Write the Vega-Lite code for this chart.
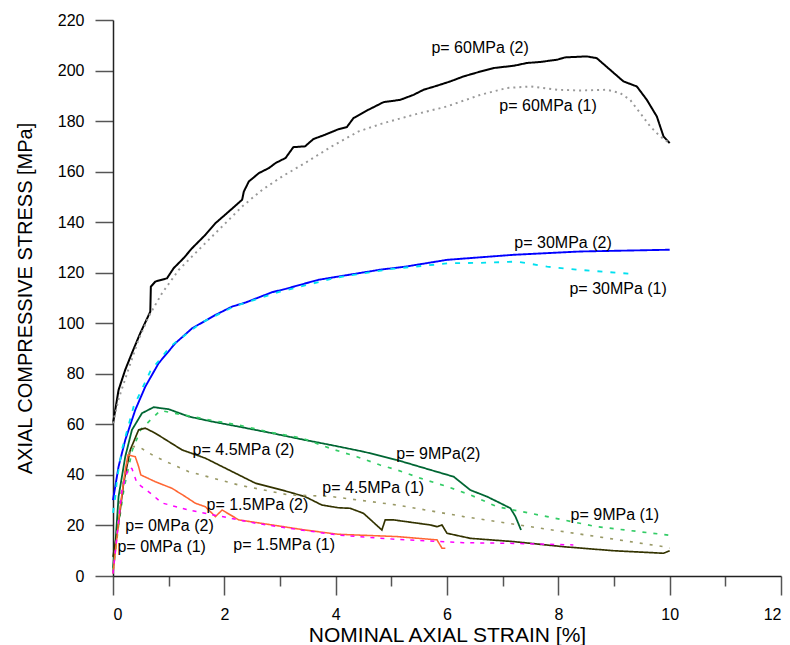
{
  "$schema": "https://vega.github.io/schema/vega-lite/v6.json",
  "autosize": "none",
  "width": 668,
  "height": 556,
  "padding": {"left": 113, "top": 20, "right": 9, "bottom": 69},
  "background": "white",
  "config": {"view": {"stroke": null}, "font": "Liberation Sans"},
  "datasets": {
    "curves": [
      {"s":"60-2","i":1,"x":0,"y":60.4},{"s":"60-2","i":2,"x":0.1,"y":73.6},{"s":"60-2","i":3,"x":0.22,"y":81.6},{"s":"60-2","i":4,"x":0.34,"y":88.2},{"s":"60-2","i":5,"x":0.49,"y":96.1},{"s":"60-2","i":6,"x":0.67,"y":104.6},{"s":"60-2","i":7,"x":0.68,"y":114.5},{"s":"60-2","i":8,"x":0.76,"y":116.5},{"s":"60-2","i":9,"x":0.97,"y":117.8},{"s":"60-2","i":10,"x":1.09,"y":121.8},{"s":"60-2","i":11,"x":1.27,"y":125.8},{"s":"60-2","i":12,"x":1.42,"y":129.7},{"s":"60-2","i":13,"x":1.66,"y":135},{"s":"60-2","i":14,"x":1.84,"y":139.6},{"s":"60-2","i":15,"x":2.08,"y":144.2},{"s":"60-2","i":16,"x":2.32,"y":148.9},{"s":"60-2","i":17,"x":2.35,"y":152.1},{"s":"60-2","i":18,"x":2.44,"y":156.1},{"s":"60-2","i":19,"x":2.62,"y":159.4},{"s":"60-2","i":20,"x":2.8,"y":161.4},{"s":"60-2","i":21,"x":2.92,"y":163.4},{"s":"60-2","i":22,"x":3.1,"y":165.4},{"s":"60-2","i":23,"x":3.24,"y":169.7},{"s":"60-2","i":24,"x":3.45,"y":170},{"s":"60-2","i":25,"x":3.6,"y":172.9},{"s":"60-2","i":26,"x":3.81,"y":174.6},{"s":"60-2","i":27,"x":4.05,"y":176.8},{"s":"60-2","i":28,"x":4.2,"y":177.6},{"s":"60-2","i":29,"x":4.32,"y":181.2},{"s":"60-2","i":30,"x":4.59,"y":184.5},{"s":"60-2","i":31,"x":4.86,"y":187.5},{"s":"60-2","i":32,"x":5.16,"y":188.4},{"s":"60-2","i":33,"x":5.4,"y":190.4},{"s":"60-2","i":34,"x":5.58,"y":192.4},{"s":"60-2","i":35,"x":5.82,"y":194},{"s":"60-2","i":36,"x":6.06,"y":195.7},{"s":"60-2","i":37,"x":6.3,"y":197.7},{"s":"60-2","i":38,"x":6.6,"y":199.6},{"s":"60-2","i":39,"x":6.84,"y":201},{"s":"60-2","i":40,"x":7.2,"y":201.9},{"s":"60-2","i":41,"x":7.44,"y":203},{"s":"60-2","i":42,"x":7.68,"y":203.4},{"s":"60-2","i":43,"x":7.98,"y":204.3},{"s":"60-2","i":44,"x":8.12,"y":205.2},{"s":"60-2","i":45,"x":8.51,"y":205.6},{"s":"60-2","i":46,"x":8.69,"y":204.9},{"s":"60-2","i":47,"x":8.93,"y":200.3},{"s":"60-2","i":48,"x":9.17,"y":195.7},{"s":"60-2","i":49,"x":9.41,"y":193.7},{"s":"60-2","i":50,"x":9.59,"y":188.4},{"s":"60-2","i":51,"x":9.77,"y":181.8},{"s":"60-2","i":52,"x":9.89,"y":173.9},{"s":"60-2","i":53,"x":10,"y":171.3},

      {"s":"60-1","i":1,"x":0,"y":60.4},{"s":"60-1","i":2,"x":0.1,"y":70},{"s":"60-1","i":3,"x":0.25,"y":80},{"s":"60-1","i":4,"x":0.45,"y":93},{"s":"60-1","i":5,"x":0.64,"y":102.6},{"s":"60-1","i":6,"x":0.88,"y":111.9},{"s":"60-1","i":7,"x":1.18,"y":121.1},{"s":"60-1","i":8,"x":1.6,"y":130.4},{"s":"60-1","i":9,"x":1.96,"y":138.3},{"s":"60-1","i":10,"x":2.32,"y":146.2},{"s":"60-1","i":11,"x":2.68,"y":152.8},{"s":"60-1","i":12,"x":3.04,"y":158.1},{"s":"60-1","i":13,"x":3.45,"y":163.4},{"s":"60-1","i":14,"x":3.93,"y":170},{"s":"60-1","i":15,"x":4.41,"y":175.9},{"s":"60-1","i":16,"x":4.83,"y":179},{"s":"60-1","i":17,"x":5.4,"y":182.5},{"s":"60-1","i":18,"x":6,"y":185.8},{"s":"60-1","i":19,"x":6.6,"y":190.4},{"s":"60-1","i":20,"x":7.08,"y":193.1},{"s":"60-1","i":21,"x":7.5,"y":193.7},{"s":"60-1","i":22,"x":7.98,"y":192.4},{"s":"60-1","i":23,"x":8.39,"y":192.1},{"s":"60-1","i":24,"x":8.87,"y":192.4},{"s":"60-1","i":25,"x":9.11,"y":191.1},{"s":"60-1","i":26,"x":9.29,"y":188.4},{"s":"60-1","i":27,"x":9.47,"y":183.2},{"s":"60-1","i":28,"x":9.65,"y":177.9},{"s":"60-1","i":29,"x":9.83,"y":173.9},{"s":"60-1","i":30,"x":10,"y":171.3},

      {"s":"30-2","i":1,"x":0,"y":30},{"s":"30-2","i":2,"x":0.1,"y":43.3},{"s":"30-2","i":3,"x":0.22,"y":53.8},{"s":"30-2","i":4,"x":0.4,"y":65.7},{"s":"30-2","i":5,"x":0.58,"y":74.9},{"s":"30-2","i":6,"x":0.82,"y":84.2},{"s":"30-2","i":7,"x":1.12,"y":92.1},{"s":"30-2","i":8,"x":1.42,"y":98},{"s":"30-2","i":9,"x":1.84,"y":103.3},{"s":"30-2","i":10,"x":2.14,"y":106.6},{"s":"30-2","i":11,"x":2.38,"y":108.2},{"s":"30-2","i":12,"x":2.86,"y":112.3},{"s":"30-2","i":13,"x":3.1,"y":113.6},{"s":"30-2","i":14,"x":3.69,"y":117.2},{"s":"30-2","i":15,"x":4.41,"y":119.8},{"s":"30-2","i":16,"x":4.8,"y":121.2},{"s":"30-2","i":17,"x":5.25,"y":122.4},{"s":"30-2","i":18,"x":6,"y":125.1},{"s":"30-2","i":19,"x":7.2,"y":127.1},{"s":"30-2","i":20,"x":8.39,"y":128.4},{"s":"30-2","i":21,"x":10,"y":129.1},

      {"s":"30-1","i":1,"x":0,"y":25},{"s":"30-1","i":2,"x":0.04,"y":31},{"s":"30-1","i":3,"x":0.07,"y":38},{"s":"30-1","i":4,"x":0.16,"y":50},{"s":"30-1","i":5,"x":0.37,"y":67},{"s":"30-1","i":6,"x":0.67,"y":81},{"s":"30-1","i":7,"x":1.03,"y":90.8},{"s":"30-1","i":8,"x":1.57,"y":100},{"s":"30-1","i":9,"x":2.17,"y":106.6},{"s":"30-1","i":10,"x":3,"y":112.5},{"s":"30-1","i":11,"x":4,"y":118},{"s":"30-1","i":12,"x":5,"y":121.5},{"s":"30-1","i":13,"x":6.06,"y":123.8},{"s":"30-1","i":14,"x":6.6,"y":123.9},{"s":"30-1","i":15,"x":7.26,"y":124.4},{"s":"30-1","i":16,"x":7.8,"y":122.4},{"s":"30-1","i":17,"x":8.39,"y":121.1},{"s":"30-1","i":18,"x":9.29,"y":119.6},

      {"s":"9-2","i":1,"x":0,"y":3},{"s":"9-2","i":2,"x":0.05,"y":15},{"s":"9-2","i":3,"x":0.1,"y":31.4},{"s":"9-2","i":4,"x":0.22,"y":47.2},{"s":"9-2","i":5,"x":0.34,"y":57.8},{"s":"9-2","i":6,"x":0.52,"y":64.4},{"s":"9-2","i":7,"x":0.73,"y":66.8},{"s":"9-2","i":8,"x":1,"y":66},{"s":"9-2","i":9,"x":1.36,"y":63.1},{"s":"9-2","i":10,"x":1.78,"y":61.1},{"s":"9-2","i":11,"x":2.26,"y":59.1},{"s":"9-2","i":12,"x":2.86,"y":56.5},{"s":"9-2","i":13,"x":3.45,"y":53.8},{"s":"9-2","i":14,"x":3.9,"y":51.9},{"s":"9-2","i":15,"x":4.5,"y":49.2},{"s":"9-2","i":16,"x":5.1,"y":45.9},{"s":"9-2","i":17,"x":5.7,"y":42},{"s":"9-2","i":18,"x":6.12,"y":39.3},{"s":"9-2","i":19,"x":6.42,"y":34},{"s":"9-2","i":20,"x":6.72,"y":31.4},{"s":"9-2","i":21,"x":6.96,"y":28.8},{"s":"9-2","i":22,"x":7.14,"y":26.8},{"s":"9-2","i":23,"x":7.23,"y":23.5},{"s":"9-2","i":24,"x":7.33,"y":18.2},

      {"s":"9-1","i":1,"x":0,"y":2},{"s":"9-1","i":2,"x":0.1,"y":20},{"s":"9-1","i":3,"x":0.2,"y":35},{"s":"9-1","i":4,"x":0.35,"y":50},{"s":"9-1","i":5,"x":0.5,"y":58},{"s":"9-1","i":6,"x":0.85,"y":65.5},{"s":"9-1","i":7,"x":1.2,"y":64},{"s":"9-1","i":8,"x":1.8,"y":61.5},{"s":"9-1","i":9,"x":2.3,"y":59.5},{"s":"9-1","i":10,"x":2.8,"y":57},{"s":"9-1","i":11,"x":3.4,"y":54.5},{"s":"9-1","i":12,"x":3.9,"y":50.5},{"s":"9-1","i":13,"x":4.38,"y":47.2},{"s":"9-1","i":14,"x":4.8,"y":43.9},{"s":"9-1","i":15,"x":5.1,"y":42},{"s":"9-1","i":16,"x":5.52,"y":38.7},{"s":"9-1","i":17,"x":6,"y":35.4},{"s":"9-1","i":18,"x":6.42,"y":32.1},{"s":"9-1","i":19,"x":6.9,"y":27.4},{"s":"9-1","i":20,"x":7.2,"y":26.1},{"s":"9-1","i":21,"x":7.8,"y":23.5},{"s":"9-1","i":22,"x":8.69,"y":19.5},{"s":"9-1","i":23,"x":9.98,"y":16.2},

      {"s":"4.5-2","i":1,"x":0,"y":7.6},{"s":"4.5-2","i":2,"x":0.1,"y":20.9},{"s":"4.5-2","i":3,"x":0.19,"y":36.7},{"s":"4.5-2","i":4,"x":0.31,"y":49.9},{"s":"4.5-2","i":5,"x":0.46,"y":57.8},{"s":"4.5-2","i":6,"x":0.58,"y":58.5},{"s":"4.5-2","i":7,"x":0.76,"y":56.5},{"s":"4.5-2","i":8,"x":1,"y":53.2},{"s":"4.5-2","i":9,"x":1.24,"y":49.9},{"s":"4.5-2","i":10,"x":1.66,"y":46.6},{"s":"4.5-2","i":11,"x":1.96,"y":43.3},{"s":"4.5-2","i":12,"x":2.26,"y":40},{"s":"4.5-2","i":13,"x":2.56,"y":36.7},{"s":"4.5-2","i":14,"x":3.04,"y":34},{"s":"4.5-2","i":15,"x":3.45,"y":31.4},{"s":"4.5-2","i":16,"x":3.75,"y":28.1},{"s":"4.5-2","i":17,"x":4.05,"y":27},{"s":"4.5-2","i":18,"x":4.26,"y":26.8},{"s":"4.5-2","i":19,"x":4.5,"y":24.8},{"s":"4.5-2","i":20,"x":4.83,"y":18.2},{"s":"4.5-2","i":21,"x":4.89,"y":22.2},{"s":"4.5-2","i":22,"x":5.04,"y":22.2},{"s":"4.5-2","i":23,"x":5.7,"y":20.2},{"s":"4.5-2","i":24,"x":5.82,"y":19.5},{"s":"4.5-2","i":25,"x":5.91,"y":20.2},{"s":"4.5-2","i":26,"x":6,"y":16.9},{"s":"4.5-2","i":27,"x":6.42,"y":14.9},{"s":"4.5-2","i":28,"x":7.2,"y":13.6},{"s":"4.5-2","i":29,"x":8.09,"y":11.6},{"s":"4.5-2","i":30,"x":8.99,"y":10},{"s":"4.5-2","i":31,"x":9.89,"y":9},{"s":"4.5-2","i":32,"x":10,"y":10},

      {"s":"4.5-1","i":1,"x":0,"y":1},{"s":"4.5-1","i":2,"x":0.13,"y":31.4},{"s":"4.5-1","i":3,"x":0.31,"y":51.2},{"s":"4.5-1","i":4,"x":0.46,"y":51.2},{"s":"4.5-1","i":5,"x":0.76,"y":47.2},{"s":"4.5-1","i":6,"x":1.36,"y":41.3},{"s":"4.5-1","i":7,"x":2.26,"y":36},{"s":"4.5-1","i":8,"x":3.15,"y":32.1},{"s":"4.5-1","i":9,"x":3.9,"y":31.5},{"s":"4.5-1","i":10,"x":5.1,"y":28.1},{"s":"4.5-1","i":11,"x":6.3,"y":23.5},{"s":"4.5-1","i":12,"x":7.5,"y":19.5},{"s":"4.5-1","i":13,"x":8.69,"y":15.6},{"s":"4.5-1","i":14,"x":9.89,"y":11.6},{"s":"4.5-1","i":15,"x":10,"y":11},

      {"s":"1.5-2","i":1,"x":0,"y":1},{"s":"1.5-2","i":2,"x":0.13,"y":27.4},{"s":"1.5-2","i":3,"x":0.22,"y":42},{"s":"1.5-2","i":4,"x":0.27,"y":47.9},{"s":"1.5-2","i":5,"x":0.4,"y":47.2},{"s":"1.5-2","i":6,"x":0.46,"y":43.3},{"s":"1.5-2","i":7,"x":0.5,"y":40},{"s":"1.5-2","i":8,"x":0.76,"y":37.3},{"s":"1.5-2","i":9,"x":1.06,"y":34.7},{"s":"1.5-2","i":10,"x":1.3,"y":31.4},{"s":"1.5-2","i":11,"x":1.48,"y":28.8},{"s":"1.5-2","i":12,"x":1.66,"y":27.4},{"s":"1.5-2","i":13,"x":1.84,"y":23.5},{"s":"1.5-2","i":14,"x":1.96,"y":26.1},{"s":"1.5-2","i":15,"x":2.26,"y":22.2},{"s":"1.5-2","i":16,"x":2.86,"y":20.2},{"s":"1.5-2","i":17,"x":3.45,"y":18.2},{"s":"1.5-2","i":18,"x":4.05,"y":16.5},{"s":"1.5-2","i":19,"x":5.1,"y":15.6},{"s":"1.5-2","i":20,"x":5.82,"y":14.3},{"s":"1.5-2","i":21,"x":5.91,"y":11},{"s":"1.5-2","i":22,"x":5.97,"y":11},

      {"s":"1.5-1","i":1,"x":0,"y":1},{"s":"1.5-1","i":2,"x":0.16,"y":34},{"s":"1.5-1","i":3,"x":0.28,"y":43},{"s":"1.5-1","i":4,"x":0.34,"y":42.5},{"s":"1.5-1","i":5,"x":0.43,"y":36.8},{"s":"1.5-1","i":6,"x":0.67,"y":32.8},{"s":"1.5-1","i":7,"x":0.88,"y":28.9},{"s":"1.5-1","i":8,"x":1.36,"y":26.1},{"s":"1.5-1","i":9,"x":1.96,"y":23.5},{"s":"1.5-1","i":10,"x":2.56,"y":20.9},{"s":"1.5-1","i":11,"x":3.15,"y":18.9},{"s":"1.5-1","i":12,"x":4.05,"y":16.2},{"s":"1.5-1","i":13,"x":5.1,"y":14.5},{"s":"1.5-1","i":14,"x":6.3,"y":13.2},{"s":"1.5-1","i":15,"x":7.2,"y":12.9},{"s":"1.5-1","i":16,"x":8.27,"y":12.3}
    ],
    "labels": [
      {"t":"p= 60MPa (2)","x":5.72,"y":209},
      {"t":"p= 60MPa (1)","x":6.94,"y":186},
      {"t":"p= 30MPa (2)","x":7.21,"y":131.8},
      {"t":"p= 30MPa (1)","x":8.2,"y":113.6},
      {"t":"p= 9MPa(2)","x":5.09,"y":48.3},
      {"t":"p= 9MPa (1)","x":8.22,"y":24.1},
      {"t":"p= 4.5MPa (2)","x":1.43,"y":49.9},
      {"t":"p= 4.5MPa (1)","x":3.76,"y":34.8},
      {"t":"p= 1.5MPa (2)","x":1.68,"y":28.1},
      {"t":"p= 1.5MPa (1)","x":2.16,"y":12.3},
      {"t":"p= 0MPa (2)","x":0.22,"y":19.8},
      {"t":"p= 0MPa (1)","x":0.08,"y":11.5}
    ]
  },
  "layer": [
    {
      "data": {"name": "curves"},
      "mark": {"type": "line", "interpolate": "linear"},
      "encoding": {
        "x": {"field": "x", "type": "quantitative",
          "scale": {"domain": [0, 12], "nice": false, "zero": false},
          "axis": {
            "values": [0,1,2,3,4,5,6,7,8,9,10,11,12],
            "format": "d",
            "labelExpr": "datum.value % 2 === 0 ? datum.label : ''",
            "tickSize": {"condition": {"test": "datum.value % 2 === 0", "value": 19}, "value": 10},
            "tickColor": "#555555",
            "tickWidth": 1.5,
            "domainColor": "#222222",
            "domainWidth": 1.5,
            "grid": false,
            "labelFontSize": 16,
            "labelColor": "#000000",
            "labelPadding": 11,
            "labelFont": "Liberation Sans",
            "title": "NOMINAL AXIAL STRAIN [%]",
            "titleFont": "Liberation Sans",
            "titleFontSize": 21,
            "titleFontWeight": "normal",
            "titleColor": "#000000",
            "titlePadding": 2
          }
        },
        "y": {"field": "y", "type": "quantitative",
          "scale": {"domain": [0, 220], "nice": false, "zero": false},
          "axis": {
            "values": [0,10,20,30,40,50,60,70,80,90,100,110,120,130,140,150,160,170,180,190,200,210,220],
            "format": "d",
            "labelExpr": "datum.value % 20 === 0 ? datum.label : ''",
            "tickSize": {"condition": {"test": "datum.value % 20 === 0", "value": 18}, "value": 9},
            "tickColor": "#555555",
            "tickWidth": 1.5,
            "domainColor": "#222222",
            "domainWidth": 1.5,
            "grid": false,
            "labelFontSize": 16,
            "labelColor": "#000000",
            "labelPadding": 11,
            "labelFont": "Liberation Sans",
            "title": "AXIAL COMPRESSIVE STRESS [MPa]",
            "titleFont": "Liberation Sans",
            "titleFontSize": 20,
            "titleFontWeight": "normal",
            "titleColor": "#000000",
            "titlePadding": 22
          }
        },
        "order": {"field": "i", "type": "quantitative"},
        "detail": {"field": "s"},
        "color": {"field": "s", "type": "nominal", "legend": null,
          "scale": {"domain": ["60-2","60-1","30-2","30-1","9-2","9-1","4.5-2","4.5-1","1.5-2","1.5-1"],
                    "range": ["#000000","#999999","#0000ff","#00e0ef","#006633","#33cc66","#333300","#999966","#ff6633","#ff00ff"]}},
        "strokeDash": {"field": "s", "type": "nominal", "legend": null,
          "scale": {"domain": ["60-2","60-1","30-2","30-1","9-2","9-1","4.5-2","4.5-1","1.5-2","1.5-1"],
                    "range": [[1,0],[2,4],[1,0],[5,8],[1,0],[4,7],[1,0],[3,7],[1,0],[4,6]]}},
        "strokeWidth": {"field": "s", "type": "nominal", "legend": null,
          "scale": {"domain": ["60-2","60-1","30-2","30-1","9-2","9-1","4.5-2","4.5-1","1.5-2","1.5-1"],
                    "range": [2,1.5,2,2,1.5,2,1.5,1.5,1.5,2]}}
      }
    },
    {
      "data": {"name": "labels"},
      "mark": {"type": "text", "align": "left", "baseline": "middle", "fontSize": 16, "font": "Liberation Sans", "color": "#000000"},
      "encoding": {
        "x": {"field": "x", "type": "quantitative"},
        "y": {"field": "y", "type": "quantitative"},
        "text": {"field": "t"}
      }
    }
  ]
}
